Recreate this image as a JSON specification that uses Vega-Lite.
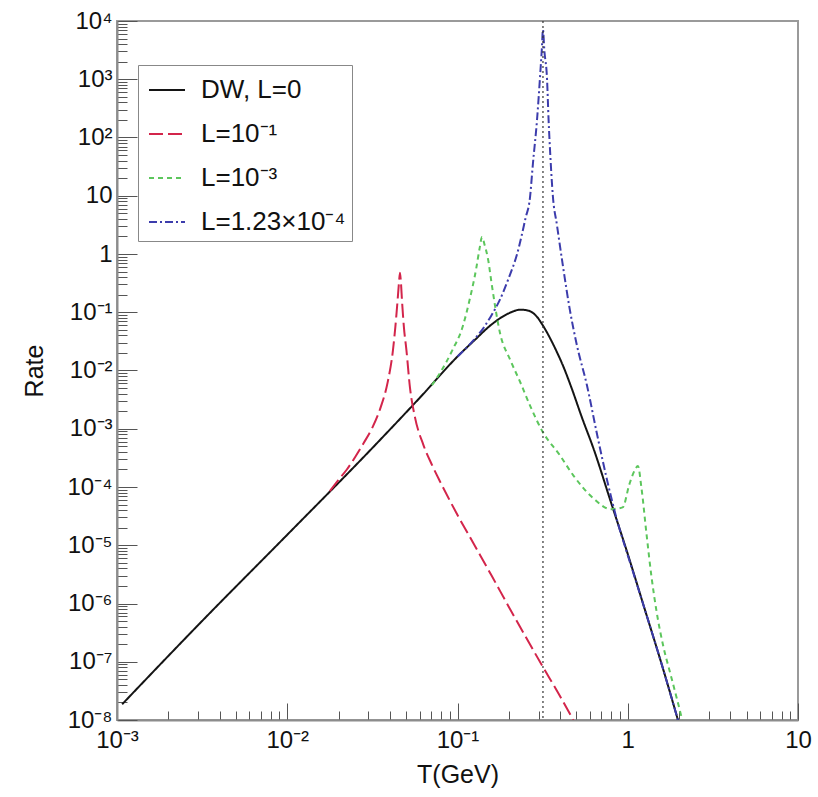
{
  "$schema": "https://vega.github.io/schema/vega-lite/v6.json",
  "width": 681,
  "height": 699,
  "autosize": {"type": "none"},
  "padding": {"left": 117, "top": 21, "right": 20, "bottom": 77},
  "background": "white",
  "config": {
    "view": {"stroke": "#9a9a9a", "strokeWidth": 2},
    "font": "Liberation Sans",
    "axis": {
      "labelFont": "Liberation Sans",
      "titleFont": "Liberation Sans",
      "labelColor": "#111111",
      "titleColor": "#111111",
      "titleFontWeight": "normal",
      "domainColor": "#8c8c8c",
      "domainWidth": 2,
      "tickColor": "#555555",
      "tickWidth": 1,
      "grid": false,
      "labelFontSize": 24,
      "titleFontSize": 25,
      "labelOverlap": false,
      "labelFlush": false,
      "labelBound": false
    }
  },
  "data": {
    "values": [
      {"series": "DW, L=0", "T": 0.001072, "R": 1.862e-8},
      {"series": "DW, L=0", "T": 0.003162, "R": 5.012e-7},
      {"series": "DW, L=0", "T": 0.01, "R": 1.514e-5},
      {"series": "DW, L=0", "T": 0.03162, "R": 4.677e-4},
      {"series": "DW, L=0", "T": 0.0631, "R": 3.981e-3},
      {"series": "DW, L=0", "T": 0.1, "R": 1.738e-2},
      {"series": "DW, L=0", "T": 0.1259, "R": 3.311e-2},
      {"series": "DW, L=0", "T": 0.1585, "R": 6.166e-2},
      {"series": "DW, L=0", "T": 0.1995, "R": 9.55e-2},
      {"series": "DW, L=0", "T": 0.2344, "R": 0.1109},
      {"series": "DW, L=0", "T": 0.263, "R": 0.1059},
      {"series": "DW, L=0", "T": 0.2951, "R": 8.128e-2},
      {"series": "DW, L=0", "T": 0.3162, "R": 6.026e-2},
      {"series": "DW, L=0", "T": 0.3388, "R": 4.266e-2},
      {"series": "DW, L=0", "T": 0.3802, "R": 2.188e-2},
      {"series": "DW, L=0", "T": 0.4169, "R": 1.202e-2},
      {"series": "DW, L=0", "T": 0.4677, "R": 5.012e-3},
      {"series": "DW, L=0", "T": 0.537, "R": 1.585e-3},
      {"series": "DW, L=0", "T": 0.631, "R": 4.467e-4},
      {"series": "DW, L=0", "T": 0.7943, "R": 5.623e-5},
      {"series": "DW, L=0", "T": 1.0, "R": 7.079e-6},
      {"series": "DW, L=0", "T": 1.259, "R": 7.943e-7},
      {"series": "DW, L=0", "T": 1.585, "R": 8.913e-8},
      {"series": "DW, L=0", "T": 1.972, "R": 1e-8},

      {"series": "L=10⁻¹", "T": 0.01778, "R": 8.511e-5},
      {"series": "L=10⁻¹", "T": 0.01995, "R": 1.318e-4},
      {"series": "L=10⁻¹", "T": 0.02239, "R": 1.995e-4},
      {"series": "L=10⁻¹", "T": 0.02512, "R": 3.311e-4},
      {"series": "L=10⁻¹", "T": 0.02818, "R": 5.754e-4},
      {"series": "L=10⁻¹", "T": 0.03162, "R": 1.047e-3},
      {"series": "L=10⁻¹", "T": 0.03548, "R": 2.399e-3},
      {"series": "L=10⁻¹", "T": 0.0389, "R": 6.31e-3},
      {"series": "L=10⁻¹", "T": 0.04178, "R": 2.239e-2},
      {"series": "L=10⁻¹", "T": 0.04315, "R": 5.623e-2},
      {"series": "L=10⁻¹", "T": 0.04446, "R": 0.1585},
      {"series": "L=10⁻¹", "T": 0.04529, "R": 0.3162},
      {"series": "L=10⁻¹", "T": 0.04592, "R": 0.4786},
      {"series": "L=10⁻¹", "T": 0.04656, "R": 0.3162},
      {"series": "L=10⁻¹", "T": 0.04721, "R": 0.1585},
      {"series": "L=10⁻¹", "T": 0.04842, "R": 5.623e-2},
      {"series": "L=10⁻¹", "T": 0.05012, "R": 2.239e-2},
      {"series": "L=10⁻¹", "T": 0.0526, "R": 5.012e-3},
      {"series": "L=10⁻¹", "T": 0.05623, "R": 1.585e-3},
      {"series": "L=10⁻¹", "T": 0.0631, "R": 5.248e-4},
      {"series": "L=10⁻¹", "T": 0.07079, "R": 2.399e-4},
      {"series": "L=10⁻¹", "T": 0.07943, "R": 1.202e-4},
      {"series": "L=10⁻¹", "T": 0.1, "R": 3.311e-5},
      {"series": "L=10⁻¹", "T": 0.1259, "R": 1e-5},
      {"series": "L=10⁻¹", "T": 0.1585, "R": 3.02e-6},
      {"series": "L=10⁻¹", "T": 0.1995, "R": 8.913e-7},
      {"series": "L=10⁻¹", "T": 0.2512, "R": 2.692e-7},
      {"series": "L=10⁻¹", "T": 0.3162, "R": 8.318e-8},
      {"series": "L=10⁻¹", "T": 0.3981, "R": 2.63e-8},
      {"series": "L=10⁻¹", "T": 0.4786, "R": 1e-8},

      {"series": "L=10⁻³", "T": 0.07079, "R": 5.623e-3},
      {"series": "L=10⁻³", "T": 0.07943, "R": 9.333e-3},
      {"series": "L=10⁻³", "T": 0.09333, "R": 2.239e-2},
      {"series": "L=10⁻³", "T": 0.1072, "R": 5.623e-2},
      {"series": "L=10⁻³", "T": 0.1175, "R": 0.1585},
      {"series": "L=10⁻³", "T": 0.1288, "R": 0.5623},
      {"series": "L=10⁻³", "T": 0.1349, "R": 1.259},
      {"series": "L=10⁻³", "T": 0.1393, "R": 1.95},
      {"series": "L=10⁻³", "T": 0.1445, "R": 1.413},
      {"series": "L=10⁻³", "T": 0.1514, "R": 0.7943},
      {"series": "L=10⁻³", "T": 0.1585, "R": 0.3162},
      {"series": "L=10⁻³", "T": 0.1778, "R": 4.365e-2},
      {"series": "L=10⁻³", "T": 0.2042, "R": 1.514e-2},
      {"series": "L=10⁻³", "T": 0.2344, "R": 6.166e-3},
      {"series": "L=10⁻³", "T": 0.2692, "R": 2.344e-3},
      {"series": "L=10⁻³", "T": 0.3162, "R": 8.913e-4},
      {"series": "L=10⁻³", "T": 0.3981, "R": 3.548e-4},
      {"series": "L=10⁻³", "T": 0.4786, "R": 1.585e-4},
      {"series": "L=10⁻³", "T": 0.631, "R": 6.31e-5},
      {"series": "L=10⁻³", "T": 0.7943, "R": 4.169e-5},
      {"series": "L=10⁻³", "T": 0.9333, "R": 4.467e-5},
      {"series": "L=10⁻³", "T": 1.023, "R": 1.122e-4},
      {"series": "L=10⁻³", "T": 1.096, "R": 1.905e-4},
      {"series": "L=10⁻³", "T": 1.148, "R": 2.291e-4},
      {"series": "L=10⁻³", "T": 1.202, "R": 1e-4},
      {"series": "L=10⁻³", "T": 1.288, "R": 1.585e-5},
      {"series": "L=10⁻³", "T": 1.38, "R": 2.818e-6},
      {"series": "L=10⁻³", "T": 1.479, "R": 7.079e-7},
      {"series": "L=10⁻³", "T": 1.622, "R": 1.778e-7},
      {"series": "L=10⁻³", "T": 1.778, "R": 6.31e-8},
      {"series": "L=10⁻³", "T": 1.95, "R": 2.239e-8},
      {"series": "L=10⁻³", "T": 2.089, "R": 1e-8},

      {"series": "L=1.23×10⁻⁴", "T": 0.1, "R": 1.738e-2},
      {"series": "L=1.23×10⁻⁴", "T": 0.1259, "R": 3.467e-2},
      {"series": "L=1.23×10⁻⁴", "T": 0.1413, "R": 5.248e-2},
      {"series": "L=1.23×10⁻⁴", "T": 0.1585, "R": 8.913e-2},
      {"series": "L=1.23×10⁻⁴", "T": 0.1778, "R": 0.166},
      {"series": "L=1.23×10⁻⁴", "T": 0.1995, "R": 0.3802},
      {"series": "L=1.23×10⁻⁴", "T": 0.2239, "R": 1.0},
      {"series": "L=1.23×10⁻⁴", "T": 0.2512, "R": 4.169},
      {"series": "L=1.23×10⁻⁴", "T": 0.2661, "R": 8.913},
      {"series": "L=1.23×10⁻⁴", "T": 0.2773, "R": 35.48},
      {"series": "L=1.23×10⁻⁴", "T": 0.2931, "R": 199.5},
      {"series": "L=1.23×10⁻⁴", "T": 0.3055, "R": 1122},
      {"series": "L=1.23×10⁻⁴", "T": 0.3126, "R": 3162},
      {"series": "L=1.23×10⁻⁴", "T": 0.3177, "R": 7079},
      {"series": "L=1.23×10⁻⁴", "T": 0.3236, "R": 3162},
      {"series": "L=1.23×10⁻⁴", "T": 0.3357, "R": 1000},
      {"series": "L=1.23×10⁻⁴", "T": 0.3428, "R": 199.5},
      {"series": "L=1.23×10⁻⁴", "T": 0.3508, "R": 50.12},
      {"series": "L=1.23×10⁻⁴", "T": 0.3631, "R": 10},
      {"series": "L=1.23×10⁻⁴", "T": 0.3837, "R": 3.162},
      {"series": "L=1.23×10⁻⁴", "T": 0.4169, "R": 0.6026},
      {"series": "L=1.23×10⁻⁴", "T": 0.4571, "R": 0.1096},
      {"series": "L=1.23×10⁻⁴", "T": 0.5012, "R": 2.818e-2},
      {"series": "L=1.23×10⁻⁴", "T": 0.5754, "R": 5.623e-3},
      {"series": "L=1.23×10⁻⁴", "T": 0.6607, "R": 7.943e-4},
      {"series": "L=1.23×10⁻⁴", "T": 0.7586, "R": 1.259e-4},
      {"series": "L=1.23×10⁻⁴", "T": 0.871, "R": 2.512e-5},
      {"series": "L=1.23×10⁻⁴", "T": 1.0, "R": 6.761e-6},
      {"series": "L=1.23×10⁻⁴", "T": 1.259, "R": 7.943e-7},
      {"series": "L=1.23×10⁻⁴", "T": 1.585, "R": 8.913e-8},
      {"series": "L=1.23×10⁻⁴", "T": 1.972, "R": 1e-8}
    ]
  },
  "layer": [
    {
      "mark": {"type": "line", "clip": true, "interpolate": "monotone"},
      "encoding": {
        "x": {
          "field": "T",
          "type": "quantitative",
          "scale": {"type": "log", "domain": [0.001, 10], "nice": false},
          "axis": {
            "title": "T(GeV)",
            "titlePadding": 2,
            "values": [0.001, 0.002, 0.003, 0.004, 0.005, 0.006, 0.007, 0.008, 0.009, 0.01, 0.02, 0.03, 0.04, 0.05, 0.06, 0.07, 0.08, 0.09, 0.1, 0.2, 0.3, 0.4, 0.5, 0.6, 0.7, 0.8, 0.9, 1, 2, 3, 4, 5, 6, 7, 8, 9, 10],
            "tickSize": {"condition": {"test": "abs(log(datum.value)/LN10 - round(log(datum.value)/LN10)) < 1e-6", "value": -17}, "value": -9},
            "labelPadding": 25,
            "labelExpr": "abs(log(datum.value)/LN10 - round(log(datum.value)/LN10)) > 1e-6 ? '' : round(log(datum.value)/LN10) == 0 ? '1' : round(log(datum.value)/LN10) == 1 ? '10' : '10' + (datum.value < 1 ? '⁻' : '') + substring('⁰¹²³⁴⁵⁶⁷⁸⁹', abs(round(log(datum.value)/LN10)), abs(round(log(datum.value)/LN10)) + 1)"
          }
        },
        "y": {
          "field": "R",
          "type": "quantitative",
          "scale": {"type": "log", "domain": [1e-8, 10000], "nice": false},
          "axis": {
            "title": "Rate",
            "titlePadding": 19,
            "values": [1e-8, 2e-8, 3e-8, 4e-8, 5e-8, 6e-8, 7e-8, 8e-8, 9e-8, 1e-7, 2e-7, 3e-7, 4e-7, 5e-7, 6e-7, 7e-7, 8e-7, 9e-7, 1e-6, 2e-6, 3e-6, 4e-6, 5e-6, 6e-6, 7e-6, 8e-6, 9e-6, 1e-5, 2e-5, 3e-5, 4e-5, 5e-5, 6e-5, 7e-5, 8e-5, 9e-5, 1e-4, 2e-4, 3e-4, 4e-4, 5e-4, 6e-4, 7e-4, 8e-4, 9e-4, 0.001, 0.002, 0.003, 0.004, 0.005, 0.006, 0.007, 0.008, 0.009, 0.01, 0.02, 0.03, 0.04, 0.05, 0.06, 0.07, 0.08, 0.09, 0.1, 0.2, 0.3, 0.4, 0.5, 0.6, 0.7, 0.8, 0.9, 1, 2, 3, 4, 5, 6, 7, 8, 9, 10, 20, 30, 40, 50, 60, 70, 80, 90, 100, 200, 300, 400, 500, 600, 700, 800, 900, 1000, 2000, 3000, 4000, 5000, 6000, 7000, 8000, 9000, 10000],
            "tickSize": {"condition": {"test": "abs(log(datum.value)/LN10 - round(log(datum.value)/LN10)) < 1e-6", "value": -20}, "value": -10},
            "labelPadding": 25,
            "labelExpr": "abs(log(datum.value)/LN10 - round(log(datum.value)/LN10)) > 1e-6 ? '' : round(log(datum.value)/LN10) == 0 ? '1' : round(log(datum.value)/LN10) == 1 ? '10' : '10' + (datum.value < 1 ? '⁻' : '') + substring('⁰¹²³⁴⁵⁶⁷⁸⁹', abs(round(log(datum.value)/LN10)), abs(round(log(datum.value)/LN10)) + 1)"
          }
        },
        "color": {
          "field": "series",
          "type": "nominal",
          "scale": {
            "domain": ["DW, L=0", "L=10⁻¹", "L=10⁻³", "L=1.23×10⁻⁴"],
            "range": ["#141414", "#d3254b", "#5cc65c", "#3c3cac"]
          },
          "legend": {
            "title": null,
            "orient": "none",
            "legendX": 21,
            "legendY": 44,
            "strokeColor": "#888888",
            "fillColor": "white",
            "padding": 6,
            "symbolOffset": 4,
            "symbolType": "stroke",
            "symbolSize": 1296,
            "symbolStrokeWidth": 2,
            "labelFont": "Liberation Sans",
            "labelFontSize": 26,
            "labelColor": "#111111",
            "labelOffset": 15,
            "rowPadding": 12,
            "labelLimit": 400
          }
        },
        "strokeDash": {
          "field": "series",
          "type": "nominal",
          "scale": {
            "domain": ["DW, L=0", "L=10⁻¹", "L=10⁻³", "L=1.23×10⁻⁴"],
            "range": [[1, 0], [14, 5], [5, 4], [8, 3, 2, 3]]
          },
          "legend": {
            "title": null,
            "orient": "none",
            "legendX": 21,
            "legendY": 44,
            "strokeColor": "#888888",
            "fillColor": "white",
            "padding": 6,
            "symbolOffset": 4,
            "symbolType": "stroke",
            "symbolSize": 1296,
            "symbolStrokeWidth": 2,
            "labelFont": "Liberation Sans",
            "labelFontSize": 26,
            "labelColor": "#111111",
            "labelOffset": 15,
            "rowPadding": 12,
            "labelLimit": 400
          }
        },
        "strokeWidth": {
          "field": "series",
          "type": "nominal",
          "scale": {
            "domain": ["DW, L=0", "L=10⁻¹", "L=10⁻³", "L=1.23×10⁻⁴"],
            "range": [2, 2, 1.6, 1.6]
          },
          "legend": null
        }
      }
    },
    {
      "data": {"values": [{"T": 0.3177}]},
      "mark": {"type": "rule", "color": "#333333", "strokeDash": [2, 3], "strokeWidth": 1.2},
      "encoding": {
        "x": {"field": "T", "type": "quantitative"}
      }
    }
  ]
}
